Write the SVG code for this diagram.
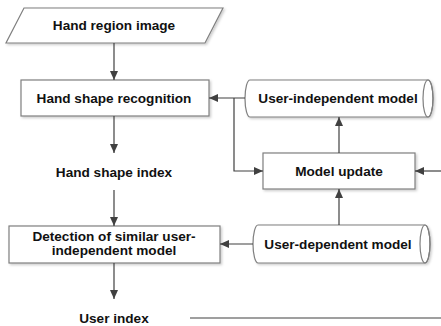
<svg xmlns="http://www.w3.org/2000/svg" width="441" height="326" viewBox="0 0 441 326">
<defs>
<marker id="ah" markerWidth="10" markerHeight="10" refX="9" refY="5" orient="auto" markerUnits="userSpaceOnUse">
<path d="M0,1 L9,5 L0,9 Z" fill="#404040"/>
</marker>
<filter id="sh" x="-5%" y="-10%" width="115%" height="130%">
<feDropShadow dx="1.5" dy="1.5" stdDeviation="1" flood-color="#000" flood-opacity="0.2"/>
</filter>
</defs>
<style>
.n{fill:#fff;stroke:#7f7f7f;stroke-width:1.2;filter:url(#sh)}
.c{fill:none;stroke:#7f7f7f;stroke-width:1.2}
.t{font-family:"Liberation Sans",Arial,sans-serif;font-weight:bold;font-size:13.6px;fill:#111;text-anchor:middle;dominant-baseline:central}
.e{fill:none;stroke:#404040;stroke-width:1.2}
</style>
<rect width="441" height="326" fill="#fff"/>
<g id="hand-region-image">
<polygon class="n" points="24,8 223,8 205,43 6,43"/>
<text class="t" x="114" y="25.5">Hand region image</text>
</g>
<g id="hand-shape-recognition">
<rect class="n" x="21" y="80" width="188" height="36"/>
<text class="t" x="114" y="98">Hand shape recognition</text>
</g>
<g id="hand-shape-index">
<text class="t" x="114" y="172">Hand shape index</text>
</g>
<g id="detection">
<rect class="n" x="9" y="226" width="211" height="37"/>
<text class="t" x="114" y="236.5">Detection of similar user-</text>
<text class="t" x="114" y="250.5">independent model</text>
</g>
<g id="user-index">
<text class="t" x="114" y="318">User index</text>
</g>
<g id="user-independent-model">
<path class="n" d="M250,80 L428,80 A5,18.5 0 0 1 428,117 L250,117 A5,18.5 0 0 1 250,80 Z"/>
<ellipse class="c" cx="428" cy="98.5" rx="5" ry="18.5"/>
<text class="t" x="338" y="98.5">User-independent model</text>
</g>
<g id="model-update">
<rect class="n" x="263" y="153" width="152" height="36"/>
<text class="t" x="339" y="171">Model update</text>
</g>
<g id="user-dependent-model">
<path class="n" d="M258,225 L425,225 A5,19 0 0 1 425,263 L258,263 A5,19 0 0 1 258,225 Z"/>
<ellipse class="c" cx="425" cy="244" rx="5" ry="19"/>
<text class="t" x="338" y="244">User-dependent model</text>
</g>
<g id="connectors">
<line class="e" x1="114" y1="43" x2="114" y2="80" marker-end="url(#ah)"/>
<line class="e" x1="114" y1="116" x2="114" y2="153" marker-end="url(#ah)"/>
<line class="e" x1="114" y1="190" x2="114" y2="226" marker-end="url(#ah)"/>
<line class="e" x1="114" y1="263" x2="114" y2="299" marker-end="url(#ah)"/>
<line class="e" x1="245" y1="98" x2="209" y2="98" marker-end="url(#ah)"/>
<polyline class="e" points="234,98 234,171 263,171" marker-end="url(#ah)"/>
<line class="e" x1="441" y1="171" x2="415" y2="171" marker-end="url(#ah)"/>
<line class="e" x1="339" y1="153" x2="339" y2="117" marker-end="url(#ah)"/>
<line class="e" x1="339" y1="225" x2="339" y2="189" marker-end="url(#ah)"/>
<line class="e" x1="253" y1="244" x2="220" y2="244" marker-end="url(#ah)"/>
<line class="e" x1="190" y1="318" x2="441" y2="318"/>
</g>
</svg>
